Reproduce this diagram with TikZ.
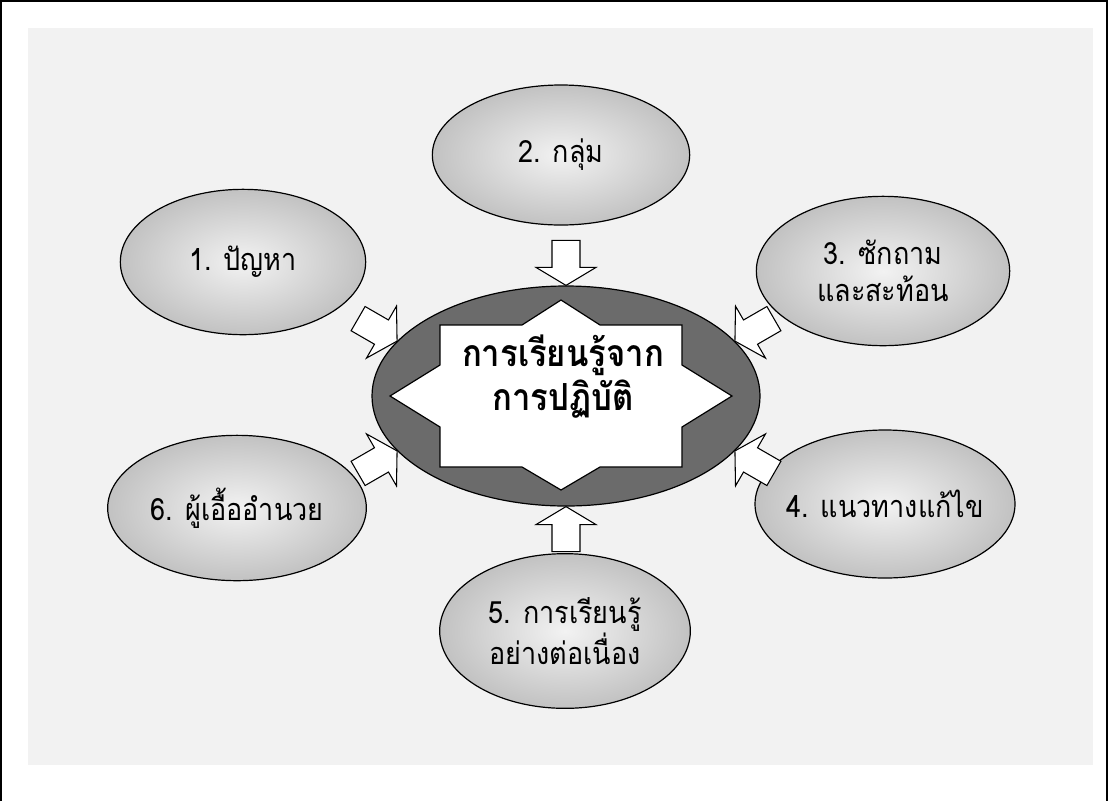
\documentclass[tikz,border=0pt]{standalone}
\usepackage{fontspec}
\newfontfamily\thaifont[Script=Thai, FakeStretch=0.88]{Loma}
\usetikzlibrary{shapes.geometric,calc}
\colorlet{paper}{gray!10}
\colorlet{ringgray}{black!58}

\tikzset{
    blockarrow/.pic={
        \draw[fill=white, line width=0.8pt, line join=miter]
            (0,0) -- (-18,30) -- (-18,14) -- (-45,14) -- (-45,-14)
            -- (-18,-14) -- (-18,-30) -- cycle;
    }
}

\begin{document}
\begin{tikzpicture}[
        x=0.75pt, y=0.75pt,
        every node/.style={font=\thaifont},
        bubble/.style={
            ellipse, draw, line width=0.9pt, inner ysep=0pt, inner xsep=-14pt,
            inner color=gray!10, outer color=gray!48,
            align=center, font=\thaifont\fontsize{23}{28}\selectfont
        },
        hub/.style={
            ellipse, draw, line width=0.9pt, fill=ringgray,
            minimum width=291pt, minimum height=165pt
        },
        hubtext/.style={
            align=center, font=\thaifont\bfseries\fontsize{28}{33}\selectfont
        },
        starshape/.style={draw, fill=white, line width=0.9pt, line join=miter}
    ]
    \useasboundingbox (0,0) rectangle (1109,-801);
    \fill[paper] (28,-28) rectangle (1093,-765);
    \draw[line width=1.2pt] (1,-801) |- (1107,-1) -- (1107,-801);

    % hub with the star
    \node[hub] (c) at (566,-396) {};
    \begin{scope}[shift={($(c)+(-5,0)$)}]
        \draw[starshape] (-121,71) -- (-39,71) -- (0,96) -- (39,71) -- (121,71)
            -- (121,31) -- (171,0) -- (121,-31) -- (121,-71) -- (39,-71)
            -- (0,-94) -- (-39,-71) -- (-121,-71) -- (-121,-31) -- (-171,0)
            -- (-121,31) -- cycle;
    \end{scope}
    \node[hubtext] (ctext) at ($(c)+(-3,19)$) {การเรียนรู้จาก\\การปฏิบัติ};

    % outer ellipses
    \node[bubble, minimum width=184pt, minimum height=109pt] (b1) at (243,-262) {1. ปัญหา};
    \node[bubble, minimum width=193pt, minimum height=105pt] (b2) at (561,-155) {2. กลุ่ม};
    \node[bubble, minimum width=190pt, minimum height=112pt] (b3) at (883,-271) {3. ซักถาม\\และสะท้อน};
    \node[bubble, minimum width=195pt, minimum height=111pt] (b4) at (885,-504) {4. แนวทางแก้ไข};
    \node[bubble, minimum width=188pt, minimum height=116pt] (b5) at (565,-631) {5. การเรียนรู้\\อย่างต่อเนื่อง};
    \node[bubble, minimum width=194pt, minimum height=109pt] (b6) at (237,-508) {6. ผู้เอื้ออำนวย};

    % arrows into the hub
    \pic[rotate=-90] at (c.north) {blockarrow};
    \pic[rotate=90] at (c.south) {blockarrow};
    \pic[rotate=-30] at (c.162) {blockarrow};
    \pic[rotate=210] at (c.18) {blockarrow};
    \pic[rotate=30] at (c.198) {blockarrow};
    \pic[rotate=150] at (c.342) {blockarrow};
\end{tikzpicture}
\end{document}
